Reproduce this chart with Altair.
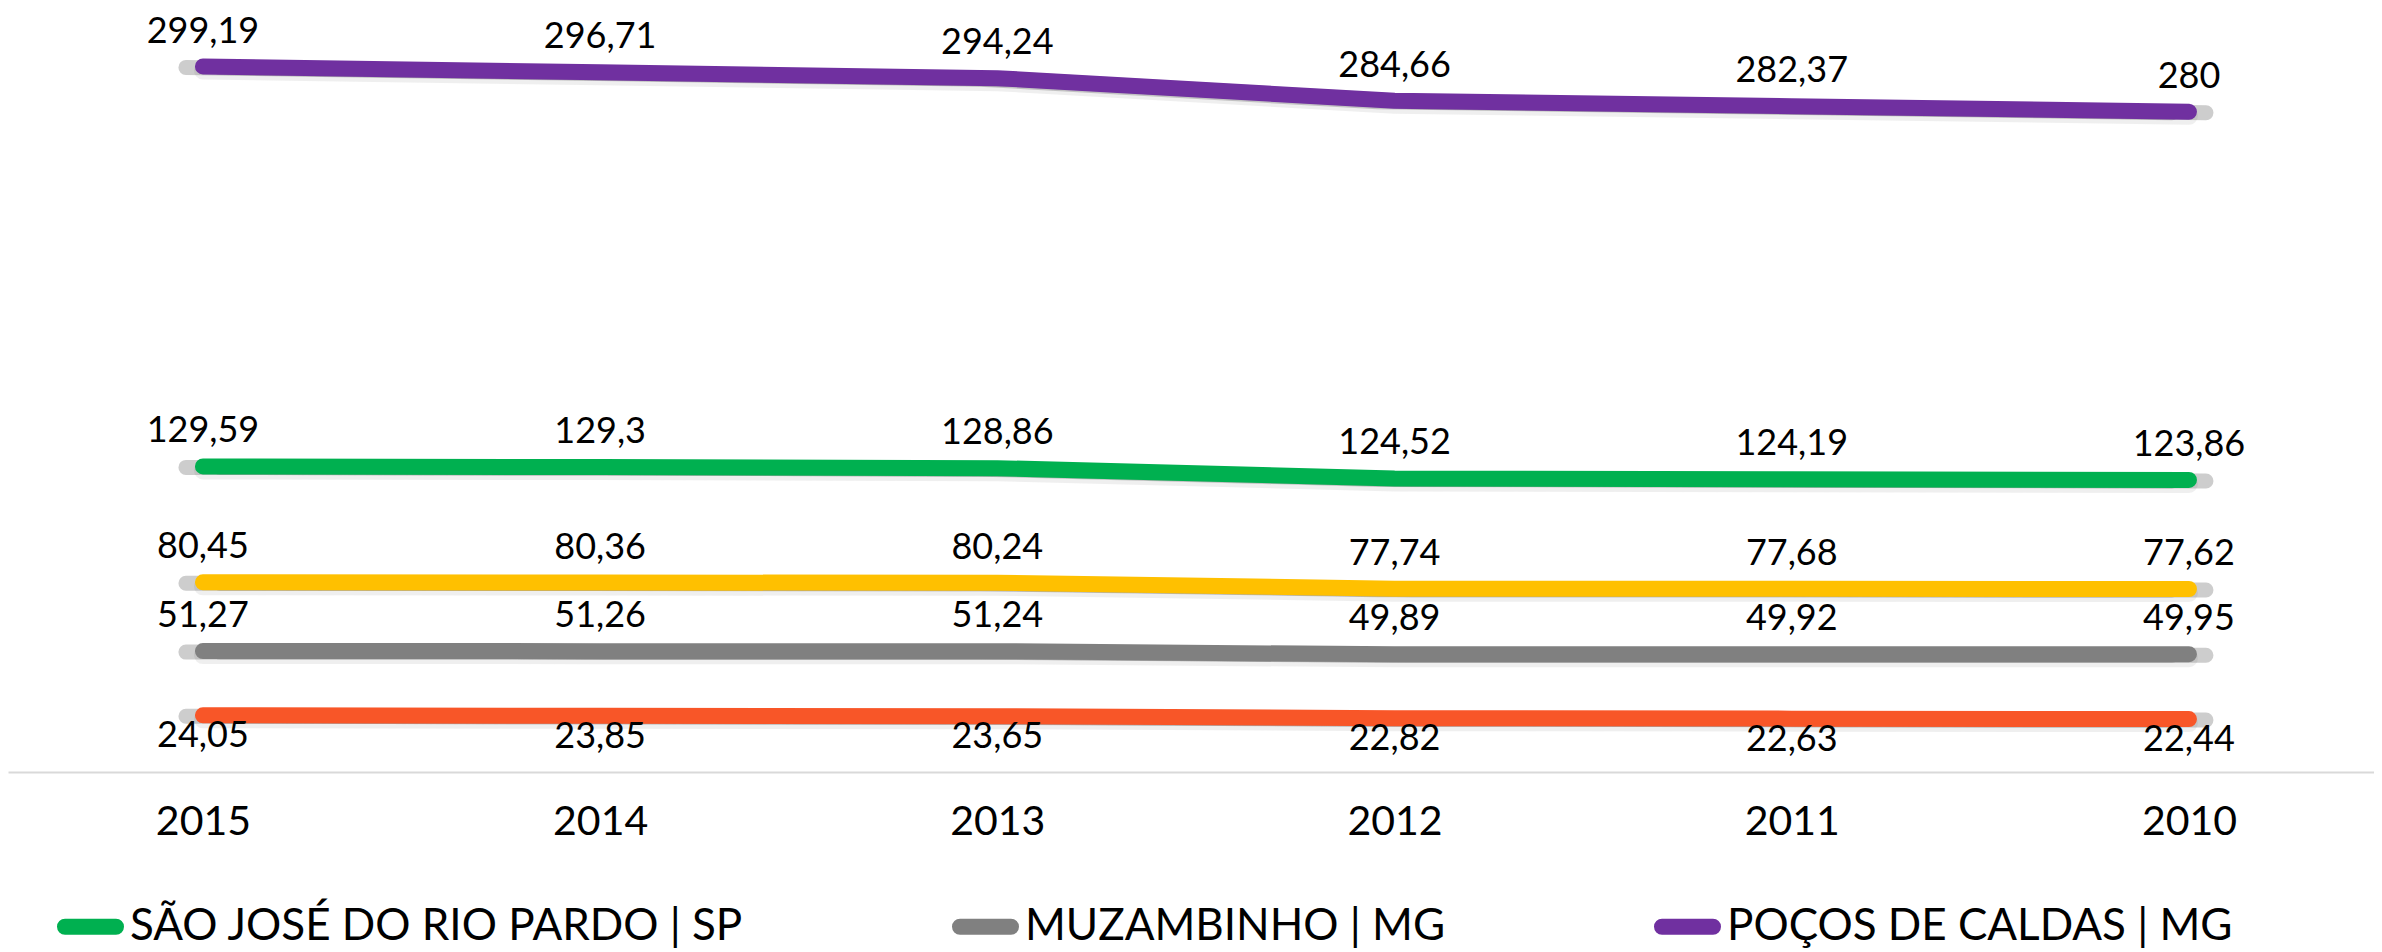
import altair as alt
import pandas as pd

anos = ["2015", "2014", "2013", "2012", "2011", "2010"]

serie_sjrp = "SÃO JOSÉ DO RIO PARDO | SP"
serie_muz = "MUZAMBINHO | MG"
serie_pocos = "POÇOS DE CALDAS | MG"
serie_amarela = "SÉRIE 4"
serie_laranja = "SÉRIE 5"

valores_sjrp = [129.59, 129.3, 128.86, 124.52, 124.19, 123.86]
valores_muz = [51.27, 51.26, 51.24, 49.89, 49.92, 49.95]
valores_pocos = [299.19, 296.71, 294.24, 284.66, 282.37, 280]
valores_amarela = [80.45, 80.36, 80.24, 77.74, 77.68, 77.62]
valores_laranja = [24.05, 23.85, 23.65, 22.82, 22.63, 22.44]

series = [serie_sjrp, serie_muz, serie_pocos, serie_amarela, serie_laranja]
cores = ["#00B050", "#808080", "#7030A0", "#FFC000", "#F85628"]
legenda_series = [serie_sjrp, serie_muz, serie_pocos]

linhas = []
for nome, vals in zip(series, [valores_sjrp, valores_muz, valores_pocos, valores_amarela, valores_laranja]):
    for ano, v in zip(anos, vals):
        linhas.append({"serie": nome, "ano": ano, "valor": v,
                       "rotulo": f"{v:g}".replace(".", ",")})
df = pd.DataFrame(linhas)

FONT = "Lato"

x_enc = alt.X(
    "ano:O",
    sort=anos,
    scale=alt.Scale(type="point", padding=0.4783, align=0.513),
    axis=alt.Axis(
        title=None, ticks=False, grid=False, labelAngle=0,
        domainColor="#D9D9D9", domainWidth=2,
        labelFont=FONT, labelFontSize=41, labelColor="#000000",
        labelPadding=30,
    ),
)
y_enc = alt.Y("valor:Q", scale=alt.Scale(domain=[0, 324], nice=False), axis=None)

base = alt.Chart(df).encode(x=x_enc, y=y_enc)

sombra_esq = base.mark_line(color="#6f6f6f", opacity=0.35, strokeWidth=15,
                            strokeCap="round", xOffset=-17, yOffset=1).encode(detail="serie:N")
sombra_dir = base.mark_line(color="#6f6f6f", opacity=0.35, strokeWidth=15,
                            strokeCap="round", xOffset=17, yOffset=1).encode(detail="serie:N")
halo = base.mark_line(color="#7a7a7a", opacity=0.12, strokeWidth=18,
                      strokeCap="round", yOffset=4).encode(detail="serie:N")

h = 4 / 29.5
a = 1 - h
simbolo = (f"M{-a:.4f},{-h:.4f} L{a:.4f},{-h:.4f} A{h:.4f},{h:.4f} 0 0 1 {a:.4f},{h:.4f} "
           f"L{-a:.4f},{h:.4f} A{h:.4f},{h:.4f} 0 0 1 {-a:.4f},{-h:.4f} Z")

linhas_ch = base.mark_line(strokeWidth=16, strokeCap="round", strokeJoin="round").encode(
    color=alt.Color(
        "serie:N",
        scale=alt.Scale(domain=series, range=cores),
        legend=alt.Legend(
            title=None, orient="none", legendX=49, legendY=885,
            direction="horizontal", values=legenda_series,
            symbolType=simbolo, symbolSize=59 * 59, symbolStrokeWidth=8,
            labelFont=FONT, labelFontSize=44, labelColor="#000000",
            columnPadding=196, labelOffset=6, padding=0, labelLimit=0,
        ),
    )
)

rot_acima = base.transform_filter(alt.datum.serie != serie_laranja).mark_text(
    font=FONT, fontSize=36, color="#000000", dy=-24, baseline="alphabetic"
).encode(text="rotulo:N")
rot_abaixo = base.transform_filter(alt.datum.serie == serie_laranja).mark_text(
    font=FONT, fontSize=36, color="#000000", dy=32, baseline="alphabetic"
).encode(text="rotulo:N")

chart = alt.layer(halo, sombra_esq, sombra_dir, linhas_ch, rot_acima, rot_abaixo).properties(
    width=2366, height=764, padding=0, background="#FFFFFF"
).configure_view(stroke=None)

chart.save("out.html", embed_options={"renderer": "svg", "actions": False})
